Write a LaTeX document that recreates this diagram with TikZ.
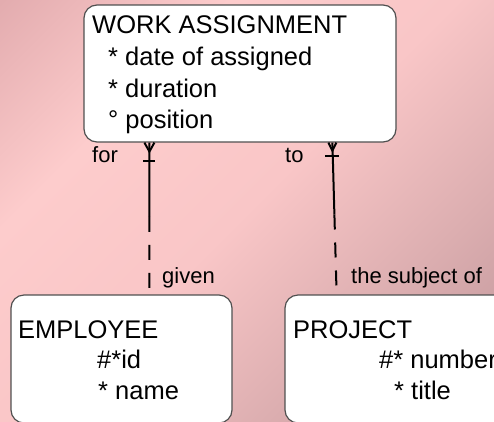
\documentclass[tikz,border=0pt]{standalone}
\usepackage{fontspec}
\setmainfont{Liberation Sans}
\usetikzlibrary{calc}
\definecolor{bgA}{HTML}{E3ACAF}
\definecolor{bgB}{HTML}{FDCCCC}
\definecolor{bgC}{HTML}{F9C6C7}
\definecolor{bgD}{HTML}{DCAEB0}
\definecolor{bgE}{HTML}{BE9499}
\definecolor{bordergray}{HTML}{505050}
\pgfdeclarehorizontalshading{bgshade}{100bp}{color(0bp)=(bgA); color(14.6bp)=(bgA); color(32.3bp)=(bgB); color(50bp)=(bgC); color(67.7bp)=(bgD); color(85.4bp)=(bgE); color(100bp)=(bgE)}
\tikzset{
  entity/.style={draw=bordergray, line width=1.2pt, fill=white, rounded corners=13pt, inner sep=0pt},
  boxtext/.style={inner sep=0pt, anchor=base west, font=\fontsize{25.5}{30}\selectfont},
  labeltext/.style={inner sep=0pt, anchor=base west, font=\fontsize{22}{26}\selectfont},
  rel/.style={line width=2pt, black},
  reldash/.style={line width=2pt, black, dash pattern=on 15pt off 13pt}
}
\begin{document}
\begin{tikzpicture}[x=1pt,y=-1pt]
\useasboundingbox (0,0) rectangle (494,421);
\shade[shading=bgshade, shading angle=-45] (0,0) rectangle (494,421);
% entities
\node[entity, minimum width=312pt, minimum height=137pt] (wa) at (240,73.5) {};
\node[entity, minimum width=221pt, minimum height=128pt] (emp) at (121.5,359) {};
\node[entity, minimum width=222pt, minimum height=128pt] (proj) at (396,359) {};
% texts
\node[boxtext] (wa0) at (92,33) {WORK ASSIGNMENT};
\node[boxtext] (wa1) at (108,65) {* date of assigned};
\node[boxtext] (wa2) at (108,97) {* duration};
\node[boxtext] (wa3) at (108,128) {° position};
\node[boxtext] (emp0) at (18,338) {EMPLOYEE};
\node[boxtext] (emp1) at (97,368) {\#*id};
\node[boxtext] (emp2) at (98,399) {* name};
\node[boxtext] (proj0) at (293,338) {PROJECT};
\node[boxtext] (proj1) at (379,368) {\#* number};
\node[boxtext] (proj2) at (394,399) {* title};
% connector anchor points
\coordinate (a1) at ($(wa.south west)+(66,0)$);
\coordinate (b1) at (a1 |- emp.north);
\coordinate (a2) at ($(wa.south west)+(249,0)$);
\coordinate (b2) at ($(proj.north west)+(52,-8)$);
% left relationship
\draw[rel] (a1) -- ($(a1)!0.49!(b1)$) coordinate (m1);
\draw[reldash] (m1) -- (b1);
\draw[rel] ($(a1)+(-5,0)$) -- ($(a1)+(0,9)$) -- ($(a1)+(5,0)$);
\draw[rel] ($(a1)+(-6,18)$) -- ($(a1)+(6,18)$);
% right relationship
\draw[rel] (a2) -- ($(a2)!0.5!(b2)$) coordinate (m2);
\draw[reldash] (m2) -- (b2);
\draw[rel] ($(a2)+(-4,0)$) -- ($(a2)+(0,8)$) -- ($(a2)+(4,0)$);
\draw[rel] ($(a2)+(-7,13)$) -- ($(a2)+(7,13)$);
% labels
\node[labeltext] (lfor) at (92,162) {for};
\node[labeltext] (lto) at (285,162) {to};
\node[labeltext] (lgiven) at (162,283) {given};
\node[labeltext] (lsubj) at (351,283) {the subject of};
\end{tikzpicture}
\end{document}
